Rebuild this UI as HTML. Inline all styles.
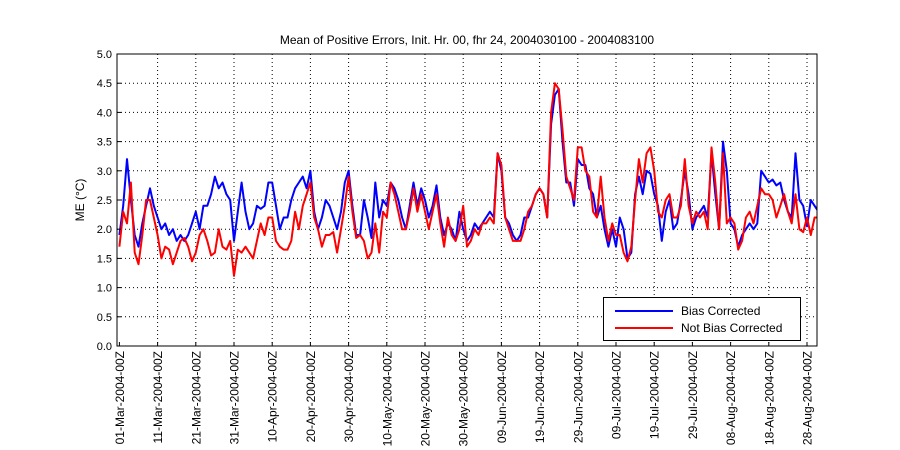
<!DOCTYPE html>
<html><head><meta charset="utf-8"><style>
body{margin:0;background:#fff;}
svg{display:block;font-family:"Liberation Sans",sans-serif;}
</style></head><body>
<svg id="chart" width="900" height="450" viewBox="0 0 900 450" xmlns="http://www.w3.org/2000/svg">
<defs><clipPath id="pc"><rect x="117" y="54" width="700" height="292"/></clipPath></defs>
<rect x="0" y="0" width="900" height="450" fill="#fff"/>
<text x="467" y="44" font-size="12" text-anchor="middle">Mean of Positive Errors, Init. Hr. 00, fhr 24, 2004030100 - 2004083100</text>
<text transform="translate(84,200) rotate(-90)" font-size="12" text-anchor="middle">ME (°C)</text>
<g id="grid"></g><g id="series" clip-path="url(#pc)"></g><g id="axes"></g>
<rect x="117" y="54" width="700" height="292" fill="none" stroke="#000" stroke-width="1"/>
<g>
<rect x="603.5" y="297.5" width="197" height="43" fill="#fff" stroke="#000"/>
<line x1="615" y1="311" x2="673" y2="311" stroke="#0000ff" stroke-width="2"/>
<text x="681" y="315" font-size="12">Bias Corrected</text>
<line x1="615" y1="328" x2="673" y2="328" stroke="#ff0000" stroke-width="2"/>
<text x="681" y="332" font-size="12">Not Bias Corrected</text>
</g>
</svg>
<script>
const tickLabels=["01-Mar-2004-00Z","11-Mar-2004-00Z","21-Mar-2004-00Z","31-Mar-2004-00Z","10-Apr-2004-00Z","20-Apr-2004-00Z","30-Apr-2004-00Z","10-May-2004-00Z","20-May-2004-00Z","30-May-2004-00Z","09-Jun-2004-00Z","19-Jun-2004-00Z","29-Jun-2004-00Z","09-Jul-2004-00Z","19-Jul-2004-00Z","29-Jul-2004-00Z","08-Aug-2004-00Z","18-Aug-2004-00Z","28-Aug-2004-00Z"];
const tickDays=[0,10,20,30,40,50,60,70,80,90,100,110,120,130,140,150,160,170,180];
const yTicks=[0,0.5,1,1.5,2,2.5,3,3.5,4,4.5,5];
const biasCorrected=[1.9,2.4,3.2,2.5,1.9,1.7,2.1,2.4,2.7,2.4,
2.2,2.0,2.1,1.9,2.0,1.8,1.9,1.8,1.9,2.1,
2.3,2.0,2.4,2.4,2.6,2.9,2.7,2.8,2.6,2.5,
1.8,2.3,2.8,2.3,2.0,2.1,2.4,2.35,2.4,2.8,
2.8,2.4,2.0,2.2,2.2,2.5,2.7,2.8,2.9,2.7,
3.0,2.3,2.0,2.2,2.5,2.4,2.2,2.0,2.3,2.8,
3.0,2.4,1.9,1.9,2.5,2.2,1.85,2.8,2.2,2.5,
2.4,2.8,2.7,2.5,2.2,2.0,2.4,2.8,2.4,2.7,
2.5,2.2,2.4,2.75,2.2,1.9,2.1,2.0,1.8,2.3,
2.0,1.8,1.9,2.1,2.0,2.1,2.2,2.3,2.2,3.3,
3.0,2.2,2.1,1.9,1.8,1.9,2.2,2.2,2.4,2.6,
2.7,2.6,2.2,3.8,4.3,4.4,3.5,2.8,2.8,2.4,
3.2,3.1,3.1,2.7,2.6,2.2,2.4,2.0,1.7,2.0,
1.7,2.2,2.0,1.5,1.6,2.6,2.9,2.6,3.0,2.95,
2.6,2.4,1.8,2.3,2.5,2.0,2.1,2.5,3.0,2.6,
2.0,2.2,2.3,2.4,2.2,3.3,2.6,2.0,3.5,3.0,
2.1,2.0,1.7,1.9,2.0,2.1,2.0,2.1,3.0,2.9,
2.8,2.85,2.75,2.8,2.5,2.3,2.2,3.3,2.5,2.4,
2.05,2.5,2.4,2.3];
const notBiasCorrected=[1.7,2.3,2.1,2.8,1.6,1.4,1.9,2.5,2.5,2.2,
1.9,1.5,1.7,1.65,1.4,1.6,1.8,1.85,1.7,1.45,
1.6,1.9,2.0,1.8,1.55,1.6,2.0,1.7,1.65,1.8,
1.2,1.65,1.6,1.7,1.6,1.5,1.8,2.1,1.9,2.2,
2.2,1.8,1.7,1.65,1.65,1.8,2.3,2.0,2.4,2.6,
2.8,2.2,2.0,1.7,1.9,1.9,1.95,1.6,2.0,2.4,
2.9,2.3,1.85,1.9,1.8,1.5,1.6,2.1,1.6,2.3,
2.2,2.8,2.6,2.3,2.0,2.0,2.3,2.7,2.3,2.6,
2.3,2.0,2.3,2.6,2.1,1.7,2.2,1.9,1.8,2.0,
2.4,1.7,1.8,2.0,1.9,2.1,2.1,2.2,2.1,3.3,
3.1,2.2,2.0,1.8,1.8,1.8,2.0,2.3,2.4,2.6,
2.7,2.6,2.2,4.0,4.5,4.4,3.7,2.9,2.7,2.5,
3.4,3.4,3.0,2.9,2.3,2.2,2.9,2.2,1.8,2.1,
1.9,1.9,1.6,1.45,1.7,2.5,3.2,2.8,3.3,3.4,
3.0,2.3,2.2,2.5,2.6,2.2,2.2,2.4,3.2,2.4,
2.1,2.3,2.2,2.3,2.0,3.4,2.8,2.0,3.3,2.1,
2.2,2.1,1.65,1.8,2.2,2.3,2.1,2.4,2.7,2.6,
2.6,2.5,2.2,2.4,2.6,2.3,2.1,2.6,2.0,1.95,
2.2,1.9,2.2,2.2];
const NS="http://www.w3.org/2000/svg";
function xs(d){return 119.4+d*3.82;}
function ys(v){return 346-v*58.4;}
function mk(tag,attrs,parent){const e=document.createElementNS(NS,tag);for(const k in attrs)e.setAttribute(k,attrs[k]);parent.appendChild(e);return e;}
const grid=document.getElementById('grid'),axes=document.getElementById('axes'),series=document.getElementById('series');
yTicks.forEach(v=>{
  const y=ys(v);
  if(v>0&&v<5){const g=mk('line',{x1:117,x2:817,y1:y,y2:y,stroke:'#000','stroke-width':1,'stroke-dasharray':'1,3'},grid);
  
  }
  const t=mk('line',{x1:117,x2:121,y1:y,y2:y,stroke:'#000'},axes);
  
  
  const lb=mk('text',{x:112,y:y+4,'font-size':11,'text-anchor':'end'},axes);
  lb.textContent=v.toFixed(1);
  
  
});
tickDays.forEach((d,i)=>{
  const x=xs(d);
  if(d>0){const g=mk('line',{x1:x,x2:x,y1:54,y2:346,stroke:'#000','stroke-width':1,'stroke-dasharray':'1,3'},grid);
  
  }
  const t=mk('line',{x1:x,x2:x,y1:346,y2:342,stroke:'#000'},axes);
  
  
  const lb=mk('text',{transform:`translate(${x+4.5},351) rotate(-90)`,'font-size':12,'text-anchor':'end'},axes);
  lb.textContent=tickLabels[i];
  
  
});
function line(vals,color,name){
  const pts=vals.map((v,i)=>xs(i).toFixed(1)+','+ys(v).toFixed(1)).join(' ');
  const p=mk('polyline',{points:pts,fill:'none',stroke:color,'stroke-width':2,'stroke-linejoin':'round'},series);
  
  
}
line(biasCorrected,'#0000ff','bias-corrected-line');
line(notBiasCorrected,'#ff0000','not-bias-corrected-line');
</script>
</body></html>
